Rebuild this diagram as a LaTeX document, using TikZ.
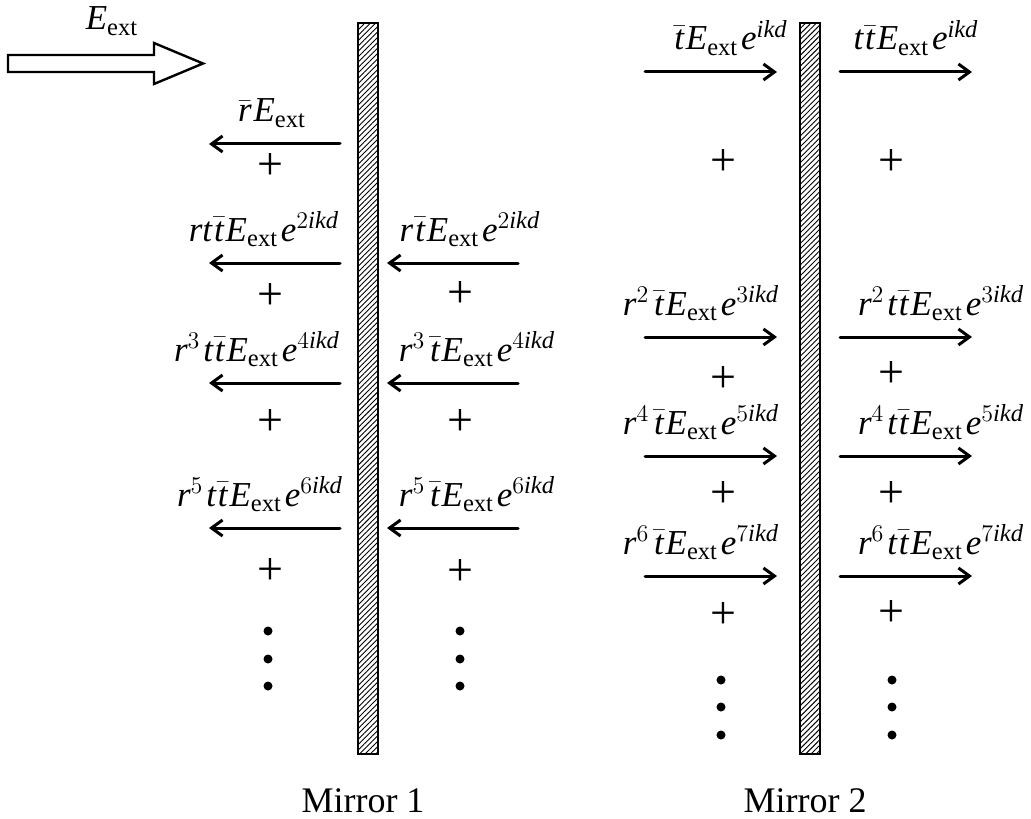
\documentclass[tikz,border=0pt]{standalone}
\usepackage{amsmath}
\usepackage{fontspec}
\setmainfont{Liberation Serif}
\usetikzlibrary{arrows.meta,patterns.meta}
\newcommand{\symr}{\mathit{r}}
\newcommand{\symt}{\mathit{t}}
\newcommand{\tb}{\mkern1mu\bar{\mathit{t}}\mkern1mu}
\newcommand{\rb}{\bar{\mathit{r}}\mkern1mu}
\newcommand{\Eext}{\mathit{E}_{\mathrm{ext}}}
\newcommand{\phs}[1]{\mkern1.5mu\mathit{e}^{#1\mathit{ikd}}}
\newcommand{\pw}[1]{^{#1}\mkern1.5mu}
\tikzset{
  mirrorbar/.style={draw=black,line width=1pt,pattern={Lines[angle=45,distance=1.9pt,line width=0.45pt]}},
  wave/.style={-{Straight Barb[length=5.5pt,width=8pt]},line width=1.5pt,line cap=round},
  bigarr/.style={draw=black,line width=1.2pt,fill=white,line join=miter},
  lbl/.style={font=\fontsize{17.5}{20}\selectfont,anchor=base,inner sep=0pt},
  sumsign/.style={font=\fontsize{23}{25}\selectfont,inner sep=0pt},
  dotv/.style={circle,fill=black,inner sep=0pt,minimum size=4.5pt},
  mirrorlbl/.style={font=\fontsize{18}{22}\selectfont,anchor=base,inner sep=0pt},
}
\begin{document}
\begin{tikzpicture}[x=0.5pt,y=-0.5pt]
  \useasboundingbox (0,0) rectangle (1031,818);
  \draw[mirrorbar] (358,23) rectangle (378,754);
  \draw[mirrorbar] (800,23) rectangle (820,754);
  \node[mirrorlbl] (ml1) at (363,812) {Mirror 1};
  \node[mirrorlbl] (ml2) at (805,812) {Mirror 2};
  \draw[bigarr] (8,55) -- (154,55) -- (154,43) -- (203,63.5) -- (154,84) -- (154,72) -- (8,72) -- cycle;
  \node[lbl] (ein) at (112,30) {$\Eext$};
  \foreach \y/\tx/\cx [count=\i] in {144/{\rb\Eext}/272,263/{\symr\symt\tb\Eext\phs{2}}/264,383/{\symr\pw{3}\symt\tb\Eext\phs{4}}/257,528/{\symr\pw{5}\symt\tb\Eext\phs{6}}/260}{
    \coordinate (ra\i) at (340,\y); \coordinate (rb\i) at (209,\y);
    \draw[wave] (ra\i) -- (rb\i);
    \node[lbl] (rl\i) at (\cx,\y-22) {$\tx$};
  }
  \foreach \y/\tx/\cx [count=\i] in {263/{\symr\tb\Eext\phs{2}}/470,383/{\symr\pw{3}\tb\Eext\phs{4}}/477,528/{\symr\pw{5}\tb\Eext\phs{6}}/477}{
    \coordinate (ia\i) at (518,\y); \coordinate (ib\i) at (387,\y);
    \draw[wave] (ia\i) -- (ib\i);
    \node[lbl] (il\i) at (\cx,\y-22) {$\tx$};
  }
  \foreach \y/\tx/\cx [count=\i] in {72/{\tb\Eext\phs{}}/730,337/{\symr\pw{2}\tb\Eext\phs{3}}/701,456/{\symr\pw{4}\tb\Eext\phs{5}}/701,576/{\symr\pw{6}\tb\Eext\phs{7}}/701}{
    \coordinate (ca\i) at (645,\y); \coordinate (cb\i) at (777,\y);
    \draw[wave] (ca\i) -- (cb\i);
    \node[lbl] (cl\i) at (\cx,\y-22) {$\tx$};
  }
  \foreach \y/\tx/\cx [count=\i] in {72/{\symt\tb\Eext\phs{}}/916,337/{\symr\pw{2}\symt\tb\Eext\phs{3}}/941,456/{\symr\pw{4}\symt\tb\Eext\phs{5}}/941,576/{\symr\pw{6}\symt\tb\Eext\phs{7}}/941}{
    \coordinate (ta\i) at (840,\y); \coordinate (tb\i) at (972,\y);
    \draw[wave] (ta\i) -- (tb\i);
    \node[lbl] (tl\i) at (\cx,\y-22) {$\tx$};
  }
  \foreach \x/\y [count=\i] in {270/167,270/297,270/423,270/571,460/295,460/423,460/572,723/163,723/380,723/495,723/615,891/163,891/375,891/495,891/613}{\node[sumsign] (s\i) at (\x,\y) {+};}
  \foreach \x/\y [count=\i] in {268/631,268/659,268/686,460/631,460/659,460/686,721/680,721/707,721/735,892/680,892/707,892/735}{\node[dotv] (d\i) at (\x,\y) {};}
\end{tikzpicture}
\end{document}
